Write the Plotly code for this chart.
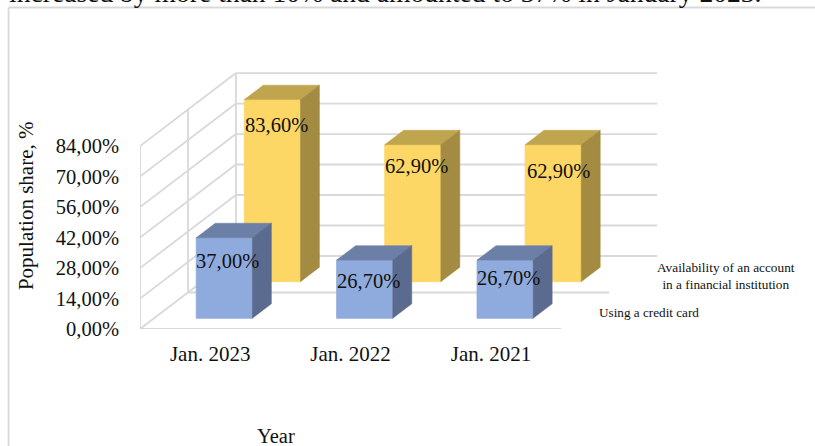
import plotly.graph_objects as go

# ---- data ----
categories = ["Jan. 2023", "Jan. 2022", "Jan. 2021"]
credit_card = [37.0, 26.7, 26.7]
account = [83.6, 62.9, 62.9]
y_ticks = [0, 14, 28, 42, 56, 70, 84]
series_card_name = "Using a credit card"
series_account_name = "Availability of an account<br>in a financial institution"
title_text = "increased by more than 10% and amounted to 37% in January 2023."

# ---- page geometry / oblique projection ----
W, H = 815, 446
PLOT_L, PLOT_B = 139.5, 329.0      # pixel of (0, 0%)
CAT_PX, VAL_PX = 140.5, 2.178      # pixels per category / per percent
DEPTH_DX, DEPTH_DY = 96.0 / CAT_PX, 73.0 / VAL_PX   # full depth in axis units
BAR_W = 0.4
BAR_D = 0.198
CARD_D0, ACC_D0 = 0.147, 0.648
GRID = "#d9d9d9"
FONT = "Liberation Serif"
INK = "#111111"


def px(x):
    return (x - PLOT_L) / (W - PLOT_L)


def py(y):
    return (PLOT_B - y) / PLOT_B


def fmt(v):
    return f"{v:.2f}%".replace(".", ",")


def line(xs, ys):
    return go.Scatter(x=xs, y=ys, mode="lines", line=dict(color=GRID, width=1.8),
                      hoverinfo="skip", showlegend=False, cliponaxis=False, zorder=0)


fig = go.Figure()

# walls and floor
n = len(categories)
for t in y_ticks:
    fig.add_trace(line([0, DEPTH_DX], [t, t + DEPTH_DY]))
    fig.add_trace(line([DEPTH_DX, DEPTH_DX + n], [t + DEPTH_DY, t + DEPTH_DY]))
top = y_ticks[-1]
for d in (0, 0.5, 1):
    fig.add_trace(line([d * DEPTH_DX] * 2, [d * DEPTH_DY, top + d * DEPTH_DY]))
    fig.add_trace(line([d * DEPTH_DX, d * DEPTH_DX + n], [d * DEPTH_DY] * 2))


def add_series(values, name, d0, front, top_c, side_c, z):
    ox, oy = d0 * DEPTH_DX, d0 * DEPTH_DY
    dx, dy = BAR_D * DEPTH_DX, BAR_D * DEPTH_DY
    centers = [i + 0.5 + ox for i in range(len(values))]
    fig.add_trace(go.Bar(x=centers, y=values, base=[oy] * len(values), width=BAR_W, name=name,
                         marker=dict(color=front, line=dict(color=front, width=0.8)),
                         showlegend=False, zorder=z))
    for c, v in zip(centers, values):
        l, r = c - BAR_W / 2, c + BAR_W / 2
        t = oy + v
        fig.add_trace(go.Scatter(x=[l, r, r + dx, l + dx, l], y=[t, t, t + dy, t + dy, t],
                                 mode="lines", fill="toself", fillcolor=top_c,
                                 line=dict(color=top_c, width=0.5), hoverinfo="skip",
                                 showlegend=False, zorder=z))
        fig.add_trace(go.Scatter(x=[r, r + dx, r + dx, r, r], y=[oy, oy + dy, t + dy, t, oy],
                                 mode="lines", fill="toself", fillcolor=side_c,
                                 line=dict(color=side_c, width=0.5), hoverinfo="skip",
                                 showlegend=False, zorder=z))
    return centers


acc_centers = add_series(account, series_account_name, ACC_D0, "#fdd766", "#bfa54e", "#a38c42", 1)
card_centers = add_series(credit_card, series_card_name, CARD_D0, "#8faadc", "#6c7fa6", "#5b6b8f", 2)

# data labels, placed by hand as in the original
annotations = []
acc_shift = [(4, -25), (4, -21), (5, -26)]
card_shift = [(3, -23), (4, -21), (3, -18)]
for cs, vs, oy, shifts in ((acc_centers, account, ACC_D0 * DEPTH_DY, acc_shift),
                           (card_centers, credit_card, CARD_D0 * DEPTH_DY, card_shift)):
    for c, v, (sx, sy) in zip(cs, vs, shifts):
        annotations.append(dict(x=c, y=oy + v, xref="x", yref="y", text=fmt(v), showarrow=False,
                                xshift=sx, yshift=sy, font=dict(family=FONT, size=20.5, color=INK)))


def note(x, y, text, size, xanchor="center", yanchor="middle", **kw):
    annotations.append(dict(x=px(x), y=py(y), xref="paper", yref="paper", text=text, showarrow=False,
                            xanchor=xanchor, yanchor=yanchor,
                            font=dict(family=FONT, size=size, color=INK), **kw))


note(726, 275.5, series_account_name, 13.3, align="center")
note(649, 312, series_card_name, 13.2)
note(276, 436, "Year", 20.5)
note(25.5, 206, "Population share, %", 21, textangle=-90)
note(6, 10.5, title_text, 27.6, xanchor="left", yanchor="bottom")

shapes = [
    dict(type="line", xref="paper", yref="paper", x0=px(8), x1=px(8), y0=py(7.5), y1=py(H),
         line=dict(color=GRID, width=1.8)),
    dict(type="line", xref="paper", yref="paper", x0=px(8), x1=px(W), y0=py(7.5), y1=py(7.5),
         line=dict(color=GRID, width=1.8)),
]

fig.update_layout(
    width=W, height=H, margin=dict(l=PLOT_L, r=0, t=0, b=H - PLOT_B, pad=0, autoexpand=False),
    paper_bgcolor="white", plot_bgcolor="white", showlegend=False, barmode="overlay",
    annotations=annotations, shapes=shapes,
    xaxis=dict(range=[0, (W - PLOT_L) / CAT_PX], tickmode="array",
               tickvals=[i + 0.5 for i in range(n)], ticktext=categories, showgrid=False,
               zeroline=False, showline=False, ticks="", ticklabelstandoff=10,
               tickfont=dict(family=FONT, size=21, color=INK)),
    yaxis=dict(range=[0, PLOT_B / VAL_PX], tickmode="array", tickvals=y_ticks,
               ticktext=[fmt(t) for t in y_ticks], showgrid=False, zeroline=False, showline=False,
               ticks="", ticklabelstandoff=20, tickfont=dict(family=FONT, size=20.5, color=INK)),
)

fig.write_html("out.html", config=dict(displayModeBar=False),
               post_script="document.body.style.margin='0';document.documentElement.style.overflow='hidden';")
